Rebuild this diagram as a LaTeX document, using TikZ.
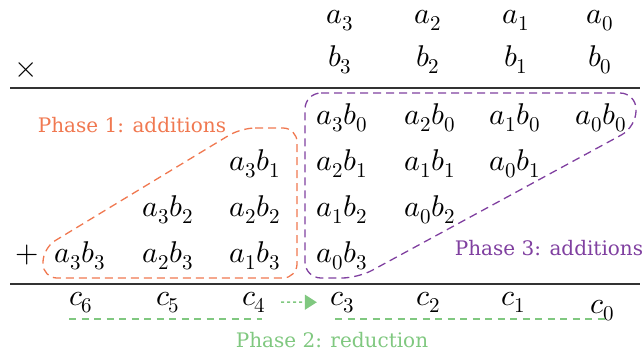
\documentclass[tikz,border=0pt]{standalone}
\usepackage{fontspec}
\usepackage{unicode-math}
\setmathfont{Latin Modern Math}
\newfontfamily\labelfont{DejaVu Serif}
\usetikzlibrary{arrows.meta}
\definecolor{orng}{RGB}{240,120,80}
\definecolor{purp}{RGB}{128,64,160}
\definecolor{grn}{RGB}{128,200,128}
\definecolor{rulec}{RGB}{50,50,50}
\begin{document}
\begin{tikzpicture}[x=1pt,y=-1pt,
  m/.style={inner sep=0pt, anchor=base, font=\fontsize{30}{34}\selectfont},
  sym/.style={inner sep=0pt, font=\fontsize{30}{34}\selectfont},
  lbl/.style={inner sep=0pt, font=\labelfont\fontsize{20}{24}\selectfont},
  rulestyle/.style={rulec, line width=1.5pt},
  phaseone/.style={orng, line width=1.3pt, dash pattern=on 8pt off 5pt, rounded corners=14pt},
  phasethree/.style={purp, line width=1.3pt, dash pattern=on 8pt off 5pt, rounded corners=16pt},
  phasetwo/.style={grn, line width=1.3pt, dash pattern=on 7pt off 5.5pt},
  carry/.style={grn, line width=1.5pt, dash pattern=on 3pt off 3pt, -{Triangle[length=12pt,width=15pt]}},
]
\useasboundingbox (0,0) rectangle (644,354);
% operands
\node[m] (a3) at (340,23) {$a_3$};
\node[m] (a2) at (428,23) {$a_2$};
\node[m] (a1) at (516,23) {$a_1$};
\node[m] (a0) at (600,23) {$a_0$};
\node[m] (b3) at (340,66) {$b_3$};
\node[m] (b2) at (428,66) {$b_2$};
\node[m] (b1) at (516,66) {$b_1$};
\node[m] (b0) at (600,66) {$b_0$};
\node[sym] (times) at (26,70) {$\times$};
% rules
\coordinate (r1l) at (10,88);
\coordinate (r1r) at (640,88);
\coordinate (r2l) at (10,284);
\coordinate (r2r) at (640,284);
\draw[rulestyle] (r1l) -- (r1r);
\draw[rulestyle] (r2l) -- (r2r);
% partial products
\node[m] (p30) at (342,124) {$a_3b_0$};
\node[m] (p20) at (430,124) {$a_2b_0$};
\node[m] (p10) at (515,124) {$a_1b_0$};
\node[m] (p00) at (601,124) {$a_0b_0$};
\node[m] (p31) at (255,170) {$a_3b_1$};
\node[m] (p21) at (342,170) {$a_2b_1$};
\node[m] (p11) at (430,170) {$a_1b_1$};
\node[m] (p01) at (515,170) {$a_0b_1$};
\node[m] (p32) at (168,216) {$a_3b_2$};
\node[m] (p22) at (255,216) {$a_2b_2$};
\node[m] (p12) at (342,216) {$a_1b_2$};
\node[m] (p02) at (430,216) {$a_0b_2$};
\node[sym] (plus) at (27,255) {$+$};
\node[m] (p33) at (80,262) {$a_3b_3$};
\node[m] (p23) at (168,262) {$a_2b_3$};
\node[m] (p13) at (255,262) {$a_1b_3$};
\node[m] (p03) at (342,262) {$a_0b_3$};
% result
\node[m] (c6) at (81,305) {$c_6$};
\node[m] (c5) at (168,305) {$c_5$};
\node[m] (c4) at (254,305) {$c_4$};
\node[m] (c3) at (342,305) {$c_3$};
\node[m] (c2) at (428,305) {$c_2$};
\node[m] (c1) at (513,305) {$c_1$};
\node[m] (c0) at (602,313) {$c_0$};
% phase 1
\draw[phaseone] (241,128) -- (297,128) -- (297,278) -- (43,278) -- (43,248) -- cycle;
\node[lbl, orng] (ph1) at (132,125) {Phase 1: additions};
% phase 3
\draw[phasethree] (305,93) -- (636,93) -- (636,127) -- (358,278) -- (305,278) -- cycle;
\node[lbl, purp] (ph3) at (549,248) {Phase 3: additions};
% phase 2
\draw[carry, shorten <=15pt, shorten >=13pt] (c4) -- (c3);
\coordinate (g1s) at (69,319);
\coordinate (g1e) at (262,319);
\coordinate (g2s) at (335,319);
\coordinate (g2e) at (606,319);
\draw[phasetwo] (g1s) -- (g1e);
\draw[phasetwo] (g2s) -- (g2e);
\node[lbl, grn] (ph2) at (332,340) {Phase 2: reduction};
\end{tikzpicture}
\end{document}
